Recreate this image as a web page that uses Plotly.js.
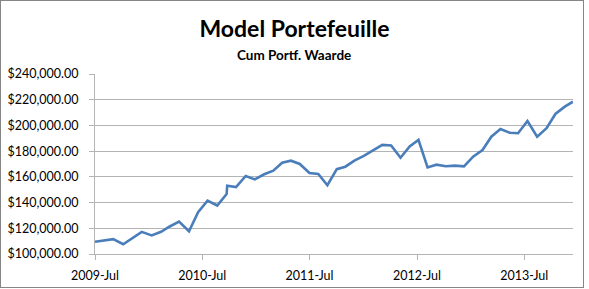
<!DOCTYPE html>
<html>
<head>
<meta charset="utf-8">
<script src="https://cdn.plot.ly/plotly-3.0.1.min.js"></script>
<style>
  html, body { margin: 0; padding: 0; background: #fff; }
  #wrap { position: relative; width: 589px; height: 289px; }
  #chart { width: 589px; height: 289px; }
  #frame { position: absolute; left: 0; top: 0; width: 584px; height: 288px;
           box-sizing: border-box; border: 1px solid #868686; pointer-events: none; }
</style>
</head>
<body>
<div id="wrap"><div id="chart"></div><div id="frame"></div></div>
<script>
const dates = [
  "2009-07-01","2009-09-01","2009-10-05","2009-11-08","2009-12-07","2010-01-10",
  "2010-02-11","2010-03-11","2010-04-13","2010-05-17","2010-06-17","2010-07-19",
  "2010-08-21","2010-09-22","2010-09-24","2010-10-24","2010-11-26","2010-12-27",
  "2011-01-28","2011-02-28","2011-03-30","2011-04-29","2011-05-29","2011-07-01",
  "2011-07-31","2011-08-31","2011-10-02","2011-10-31","2011-12-01","2012-01-02",
  "2012-02-03","2012-03-05","2012-04-04","2012-05-06","2012-06-06","2012-07-06",
  "2012-08-06","2012-09-05","2012-10-07","2012-11-07","2012-12-08","2013-01-08",
  "2013-02-09","2013-03-11","2013-04-11","2013-05-13","2013-06-10","2013-07-12",
  "2013-08-14","2013-09-15","2013-10-15","2013-11-16","2013-12-14"
];
const cumWaarde = [
  109500, 111500, 107600, 113000, 117200, 114500,
  117300, 121200, 125200, 117700, 132500, 141500,
  137700, 146700, 153100, 152000, 160700, 158000,
  162000, 164800, 171000, 172600, 170000, 163000,
  162200, 153500, 166000, 167900, 172600, 176300,
  180800, 184900, 184400, 174900, 183700, 188700,
  167300, 169500, 168300, 168700, 168200, 175700,
  180900, 191200, 197200, 194300, 193900, 203400,
  191200, 197800, 208900, 214600, 218500
];
const chartTitle = "Model Portefeuille";
const chartSubtitle = "Cum Portf. Waarde";

const font = "Lato, 'Open Sans', sans-serif";
const grid = "#b4b4b4";

Plotly.newPlot("chart", [{
  x: dates,
  y: cumWaarde,
  type: "scatter",
  mode: "lines",
  line: { color: "#4a7ebb", width: 2.6 },
  hoverinfo: "x+y"
}], {
  width: 589, height: 289,
  margin: { l: 95, r: 15.7, t: 74, b: 35, pad: 0 },
  paper_bgcolor: "#fff", plot_bgcolor: "#fff",
  showlegend: false,
  font: { family: font, color: "#000", size: 12 },
  title: {
    text: "<b>" + chartTitle + "</b>",
    font: { family: font, size: 23, color: "#000" },
    x: 0.5, xref: "container", xanchor: "center",
    y: 1 - 29 / 289, yref: "container", yanchor: "middle"
  },
  annotations: [{
    text: "<b>" + chartSubtitle + "</b>",
    xref: "paper", yref: "paper", x: (294.5 - 95) / 478.3, y: (254 - 55) / 180,
    xanchor: "center", yanchor: "middle", showarrow: false,
    font: { family: font, size: 13.5, color: "#000" }
  }],
  xaxis: {
    type: "date",
    range: ["2009-07-01", "2013-12-14"],
    tick0: "2009-07-01", dtick: "M12",
    tickformat: "%Y-%b",
    showgrid: false, zeroline: false,
    showline: true, linecolor: grid, linewidth: 1,
    ticks: "outside", ticklen: 5, tickcolor: grid,
    tickfont: { family: font, size: 12.5, color: "#000" },
    ticklabelstandoff: 5
  },
  yaxis: {
    range: [100000, 240000],
    tick0: 100000, dtick: 20000,
    tickformat: "$,.2f",
    showgrid: true, gridcolor: grid, gridwidth: 1,
    zeroline: false,
    showline: true, linecolor: grid, linewidth: 1,
    ticks: "outside", ticklen: 5, tickcolor: grid,
    tickfont: { family: font, size: 12.5, color: "#000" },
    ticklabelstandoff: 8
  }
}, { displayModeBar: false, staticPlot: true });
</script>
</body>
</html>
